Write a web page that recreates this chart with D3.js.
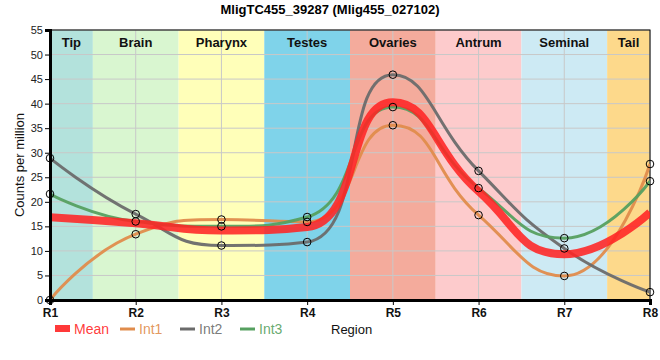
<!DOCTYPE html>
<html><head><meta charset="utf-8">
<script src="https://cdn.jsdelivr.net/npm/d3@7"></script>
<style>body{margin:0;background:#fff;font-family:Arial,"Liberation Sans",sans-serif;}</style>
</head><body>
<svg id="c" width="660" height="360"></svg>
<script>
const title = "MligTC455_39287 (Mlig455_027102)";
const regions = ["R1","R2","R3","R4","R5","R6","R7","R8"];
const tissues = ["Tip","Brain","Pharynx","Testes","Ovaries","Antrum","Seminal","Tail"];
const tissueColors = ["#b3e2dc","#d9f6d0","#ffffb9","#7fd3ea","#f4ab9c","#fdcbcc","#cdeaf4","#fdd98b"];
const int1 = [0, 13.4, 16.4, 15.9, 35.6, 17.3, 4.9, 27.7];
const int2 = [28.9, 17.5, 11.1, 11.8, 45.9, 26.3, 10.5, 1.6];
const int3 = [21.6, 16.0, 15.0, 16.9, 39.3, 22.8, 12.6, 24.2];
const mean = int1.map((v,i)=>(v+int2[i]+int3[i])/3);
const yTicks = [0,5,10,15,20,25,30,35,40,45,50,55];
const seriesNames = ["Mean","Int1","Int2","Int3"];
const seriesColors = ["#ff2424","#e08c4c","#6b6b6b","#56a060"];

// smooth curve with extreme-clamped control points (smoothness 0.5)
function SmoothCurve(context, smooth){ this._context = context; this._s = smooth; }
SmoothCurve.prototype = {
  areaStart(){}, areaEnd(){},
  lineStart(){ this._pts = []; },
  point(x,y){ this._pts.push([+x,+y]); },
  lineEnd(){
    const p = this._pts, n = p.length, ctx = this._context, s = this._s;
    if(!n) return;
    const mn = Math.min, mx = Math.max;
    let cpx0 = p[0][0], cpy0 = p[0][1], cpx1, cpy1;
    ctx.moveTo(p[0][0], p[0][1]);
    for(let i=1;i<n;i++){
      const [x,y] = p[i], [px,py] = p[i-1];
      let ncx, ncy;
      if(i === n-1){ cpx1 = x; cpy1 = y; }
      else {
        const [nx,ny] = p[i+1];
        let vx = nx - px, vy = ny - py;
        const dx0 = x-px, dy0 = y-py, dx1 = nx-x, dy1 = ny-y;
        const lp = Math.sqrt(dx0*dx0+dy0*dy0), ln = Math.sqrt(dx1*dx1+dy1*dy1);
        const r = ln/(ln+lp);
        ncx = x + vx*s*r; ncy = y + vy*s*r;
        ncx = mn(ncx, mx(nx,x)); ncy = mn(ncy, mx(ny,y));
        ncx = mx(ncx, mn(nx,x)); ncy = mx(ncy, mn(ny,y));
        vx = ncx - x; vy = ncy - y;
        cpx1 = x - vx*lp/ln; cpy1 = y - vy*lp/ln;
        cpx1 = mn(cpx1, mx(px,x)); cpy1 = mn(cpy1, mx(py,y));
        cpx1 = mx(cpx1, mn(px,x)); cpy1 = mx(cpy1, mn(py,y));
        vx = x - cpx1; vy = y - cpy1;
        ncx = x + vx*ln/lp; ncy = y + vy*ln/lp;
      }
      ctx.bezierCurveTo(cpx0, cpy0, cpx1, cpy1, x, y);
      cpx0 = ncx; cpy0 = ncy;
    }
  }
};
const curveSmooth = ctx => new SmoothCurve(ctx, 0.5);

const svg = d3.select("#c");
const L=50, R=650, T=30, B=300;
const x = d3.scalePoint().domain(regions).range([L,R]);
const y = d3.scaleLinear().domain([0,55]).range([B,T]);
const step = x.step();

svg.append("defs").append("clipPath").attr("id","clip")
  .append("rect").attr("x",L).attr("y",T).attr("width",R-L).attr("height",B-T);

// bands
tissues.forEach((t,i)=>{
  const x0 = Math.max(L, x(regions[i]) - step/2);
  const x1 = Math.min(R, x(regions[i]) + step/2);
  svg.append("rect").attr("x",x0).attr("y",T).attr("width",x1-x0).attr("height",B-T).attr("fill",tissueColors[i]);
});
// grid
svg.append("g").selectAll("line").data(yTicks).join("line")
  .attr("x1",L).attr("x2",R).attr("y1",d=>y(d)).attr("y2",d=>y(d))
  .attr("stroke","#c8c8c8").attr("stroke-width",1);
svg.append("g").selectAll("line").data(regions).join("line")
  .attr("x1",d=>x(d)).attr("x2",d=>x(d)).attr("y1",T).attr("y2",B)
  .attr("stroke","#c8c8c8").attr("stroke-width",1);
// tissue labels
tissues.forEach((t,i)=>{
  const x0 = Math.max(L, x(regions[i]) - step/2);
  const x1 = Math.min(R, x(regions[i]) + step/2);
  svg.append("text").attr("x",(x0+x1)/2).attr("y",T+17).attr("text-anchor","middle")
    .attr("font-size",13).attr("font-weight","bold").attr("fill","#111").text(t);
});
// frame
svg.append("rect").attr("x",L).attr("y",T).attr("width",R-L).attr("height",B-T)
  .attr("fill","none").attr("stroke","#000").attr("stroke-width",1);

// lines
const line = d3.line().x((d,i)=>x(regions[i])).y(d=>y(d)).curve(curveSmooth);
const lg0 = svg.append("g").attr("clip-path","url(#clip)");
[int1,int2,int3].forEach((s,k)=>{
  lg0.append("path").attr("d",line(s)).attr("fill","none")
    .attr("stroke",seriesColors[k+1]).attr("stroke-width",3).attr("stroke-opacity",0.95);
});
lg0.append("path").attr("d",line(mean)).attr("fill","none")
  .attr("stroke",seriesColors[0]).attr("stroke-width",8).attr("stroke-opacity",0.88);
[int1,int2,int3].forEach((s,k)=>{
  svg.append("g").selectAll("circle").data(s).join("circle")
    .attr("cx",(d,i)=>x(regions[i])).attr("cy",d=>y(d)).attr("r",3.8)
    .attr("fill","none").attr("stroke","#000").attr("stroke-width",1);
});

// axes
const ya = svg.append("g").attr("transform",`translate(${L},0)`)
  .call(d3.axisLeft(y).tickValues(yTicks).tickSize(5).tickPadding(2));
ya.select(".domain").attr("stroke-width",3);
ya.selectAll("text").attr("font-size",11).attr("fill","#222").attr("font-family","Arial,'Liberation Sans',sans-serif");
const xa = svg.append("g").attr("transform",`translate(0,${B})`)
  .call(d3.axisBottom(x).tickSize(5).tickPadding(3));
xa.select(".domain").attr("stroke-width",3);
xa.selectAll("text").attr("font-size",12).attr("font-weight","bold").attr("fill","#111").attr("font-family","Arial,'Liberation Sans',sans-serif");

// title
svg.append("text").attr("x",330).attr("y",14).attr("text-anchor","middle")
  .attr("font-size",13).attr("font-weight","bold").text(title);
// y label
svg.append("text").attr("transform","translate(24,165) rotate(-90)").attr("text-anchor","middle")
  .attr("font-size",13).attr("fill","#111").text("Counts per million");
// x label
svg.append("text").attr("x",331).attr("y",334).attr("font-size",13).attr("fill","#111").text("Region");

// legend
const lg = svg.append("g");
const legX = [55,120,180,240];
seriesNames.forEach((n,i)=>{
  if(i===0){
    lg.append("rect").attr("x",legX[i]).attr("y",325).attr("width",15).attr("height",7).attr("fill",seriesColors[0]).attr("opacity",0.9);
  } else {
    lg.append("line").attr("x1",legX[i]).attr("x2",legX[i]+15).attr("y1",329).attr("y2",329)
      .attr("stroke",seriesColors[i]).attr("stroke-width",3);
  }
  lg.append("text").attr("x",legX[i]+19).attr("y",334).attr("font-size",14)
    .attr("fill",seriesColors[i]).attr("fill-opacity",0.9).text(n);
});
</script>
</body></html>
